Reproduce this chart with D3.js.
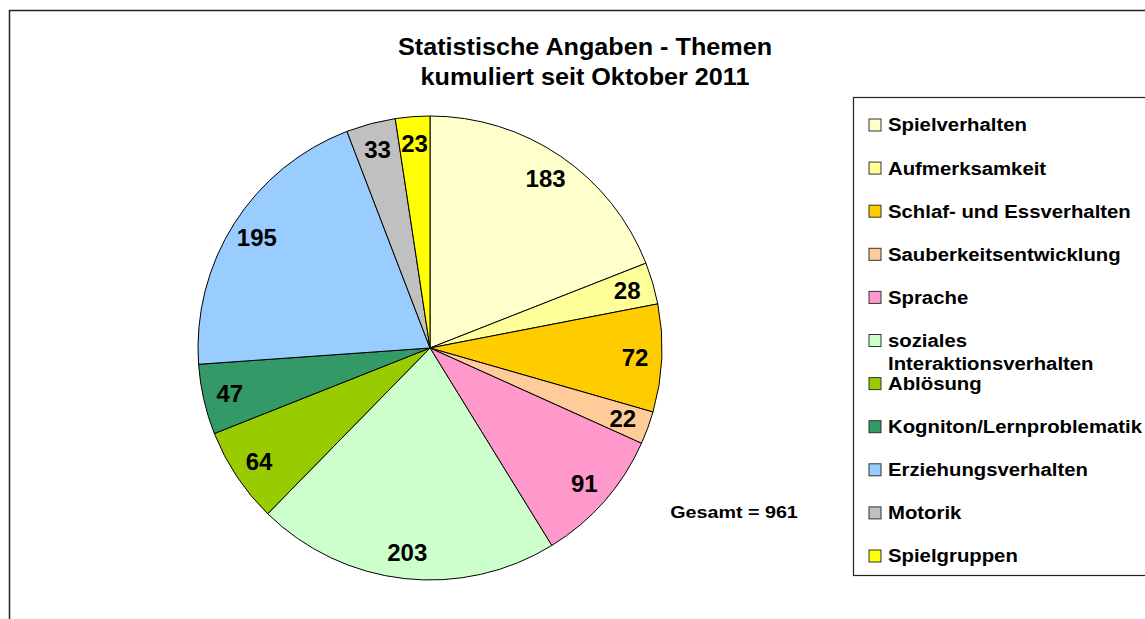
<!DOCTYPE html>
<html>
<head>
<meta charset="utf-8">
<script src="https://cdn.jsdelivr.net/npm/d3@7"></script>
<style>
  html, body { margin: 0; padding: 0; background: #fff; }
  svg { display: block; font-family: "Liberation Sans", Arial, sans-serif; }
</style>
</head>
<body>
<svg id="chart" width="1145" height="619"></svg>
<script>
const categories = [
  "Spielverhalten", "Aufmerksamkeit", "Schlaf- und Essverhalten",
  "Sauberkeitsentwicklung", "Sprache", "soziales Interaktionsverhalten",
  "Ablösung", "Kogniton/Lernproblematik", "Erziehungsverhalten",
  "Motorik", "Spielgruppen"
];
const values = [183, 28, 72, 22, 91, 203, 64, 47, 195, 33, 23];
const colors = [
  "#FFFFCC", "#FFFF99", "#FFCC00", "#FFCC99", "#FF99CC", "#CCFFCC",
  "#99CC00", "#339966", "#99CCFF", "#C0C0C0", "#FFFF00"
];
const titleLines = ["Statistische Angaben - Themen", "kumuliert seit Oktober 2011"];
const totalLabel = "Gesamt = " + d3.sum(values);

const svg = d3.select("#chart");

// outer chart frame (runs off right and bottom edge)
svg.append("rect")
  .attr("x", 9.5).attr("y", 10.5)
  .attr("width", 1160).attr("height", 640)
  .attr("fill", "none").attr("stroke", "#222").attr("stroke-width", 1.5);

// title (source text is a bit wider than plain Arial, so stretch slightly)
svg.append("g").selectAll("text")
  .data(titleLines)
  .enter().append("text")
  .attr("transform", (d, i) => `translate(585, ${55 + i * 30}) scale(1.05, 1)`)
  .attr("text-anchor", "middle")
  .attr("font-size", 24)
  .attr("font-weight", "bold")
  .text(d => d);

// pie
const cx = 430, cy = 348, radius = 232;
const pie = d3.pie().sort(null).value(d => d);
const arc = d3.arc().innerRadius(0).outerRadius(radius);
const labelArc = d3.arc().innerRadius(radius * 0.885).outerRadius(radius * 0.885);
const arcs = pie(values);

const pieG = svg.append("g").attr("transform", `translate(${cx},${cy})`);

pieG.selectAll("path")
  .data(arcs)
  .enter().append("path")
  .attr("d", arc)
  .attr("fill", (d, i) => colors[i])
  .attr("stroke", "#000")
  .attr("stroke-width", 1)
  .attr("stroke-linejoin", "round");

pieG.selectAll("text")
  .data(arcs)
  .enter().append("text")
  .attr("transform", d => `translate(${labelArc.centroid(d)})`)
  .attr("text-anchor", "middle")
  .attr("dy", "0.36em")
  .attr("font-size", 24)
  .attr("font-weight", "bold")
  .text(d => d.data);

// total
svg.append("text")
  .attr("transform", "translate(734, 518) scale(1.16, 1)")
  .attr("text-anchor", "middle")
  .attr("font-size", 17)
  .attr("font-weight", "bold")
  .text(totalLabel);

// legend
const legendX = 853.5, legendTop = 97.5;
svg.append("rect")
  .attr("x", legendX).attr("y", legendTop)
  .attr("width", 320).attr("height", 478)
  .attr("fill", "#fff").attr("stroke", "#222").attr("stroke-width", 1.2);

const rowY = d3.scalePoint()
  .domain(d3.range(categories.length))
  .range([125, 556]);

const legendRows = svg.append("g").selectAll("g")
  .data(categories)
  .enter().append("g")
  .attr("transform", (d, i) => `translate(${legendX}, ${rowY(i)})`);

legendRows.append("rect")
  .attr("x", 15.5).attr("y", -6)
  .attr("width", 12).attr("height", 12)
  .attr("fill", (d, i) => colors[i])
  .attr("stroke", "#333").attr("stroke-width", 1);

legendRows.each(function(d) {
  const t = d3.select(this).append("text")
    .attr("transform", "translate(34.5, 0) scale(1.13, 1)")
    .attr("font-size", 18)
    .attr("font-weight", "bold");
  const parts = d === "soziales Interaktionsverhalten" ? ["soziales", "Interaktionsverhalten"] : [d];
  parts.forEach((p, j) => {
    t.append("tspan")
      .attr("x", 0)
      .attr("dy", j === 0 ? "0.36em" : 23)
      .text(p);
  });
});
</script>
</body>
</html>
